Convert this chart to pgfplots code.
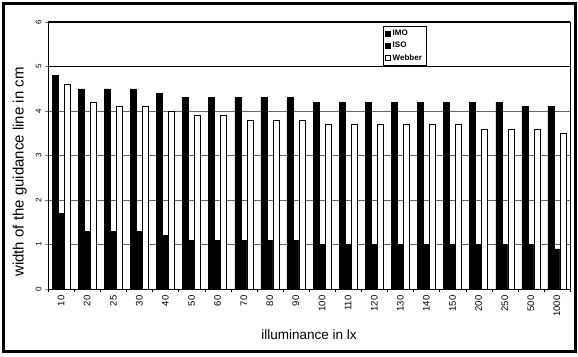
\documentclass[border=0pt]{standalone}
\usepackage{pgfplots}
\usepackage{pgfplotstable}
\pgfplotsset{compat=1.18}
\usepackage{fontspec}
\setmainfont{Liberation Sans}

\pgfplotstableread{
x lab IMO ISO Webber
0 10 4.8 1.7 4.6
1 20 4.5 1.3 4.2
2 25 4.5 1.3 4.1
3 30 4.5 1.3 4.1
4 40 4.4 1.2 4.0
5 50 4.3 1.1 3.9
6 60 4.3 1.1 3.9
7 70 4.3 1.1 3.8
8 80 4.3 1.1 3.8
9 90 4.3 1.1 3.8
10 100 4.2 1.0 3.7
11 110 4.2 1.0 3.7
12 120 4.2 1.0 3.7
13 130 4.2 1.0 3.7
14 140 4.2 1.0 3.7
15 150 4.2 1.0 3.7
16 200 4.2 1.0 3.6
17 250 4.2 1.0 3.6
18 500 4.1 1.0 3.6
19 1000 4.1 0.9 3.5
}\datatable

\begin{document}
\begin{tikzpicture}[x=1pt,y=1pt]
\useasboundingbox (0,0) rectangle (578,356);
\draw[line width=3pt] (3,5) rectangle (575,352.5);
\begin{axis}[
  at={(48pt,67pt)}, anchor=south west,
  scale only axis, width=522pt, height=267pt,
  ybar=0pt, bar width=6pt,
  xmin=-0.5, xmax=19.5, ymin=0, ymax=6,
  xtick=data,
  xticklabels from table={\datatable}{lab},
  minor xtick={-0.5,0.5,...,19.5},
  major x tick style={draw=none},
  minor x tick style={black},
  ytick={0,1,...,6},
  extra y ticks={5,6},
  extra y tick labels={},
  extra y tick style={grid style={black, line width=1.2pt}, major tick length=0pt},
  ymajorgrids,
  grid style={gray!80!black, line width=0.5pt},
  tick align=outside,
  xtick pos=bottom, ytick pos=left,
  major tick length=3pt, minor tick length=3pt,
  axis line style={black, line width=0.8pt},
  /pgf/number format/assume math mode=true,
  xticklabel style={rotate=90, anchor=east, font=\fontsize{9.5}{10}\selectfont},
  yticklabel style={rotate=90, anchor=south, font=\fontsize{8}{9}\selectfont},
  xlabel={illuminance in lx},
  ylabel={width of the guidance line in cm},
  xlabel style={at={(axis description cs:0.5,-0.172)}, anchor=center, font=\fontsize{13.5}{15}\selectfont},
  ylabel style={at={(axis description cs:-0.054,0.438)}, anchor=center, font=\fontsize{15}{17}\selectfont},
  legend style={at={(axis description cs:0.642,0.985)}, anchor=north west,
    draw=black, thin, fill=white, font=\fontsize{8}{9}\selectfont\bfseries,
    row sep=1pt, inner sep=2pt},
  legend cell align=left,
  legend image code/.code={\draw[#1, draw=black] (0pt,-2.5pt) rectangle (5pt,2.5pt);},
]
\addplot[fill=black, draw=black] table[x=x, y=IMO] {\datatable};
\addplot[fill=black, draw=black] table[x=x, y=ISO] {\datatable};
\addplot[fill=white, draw=black] table[x=x, y=Webber] {\datatable};
\legend{IMO, ISO, Webber}
\end{axis}
\end{tikzpicture}
\end{document}
